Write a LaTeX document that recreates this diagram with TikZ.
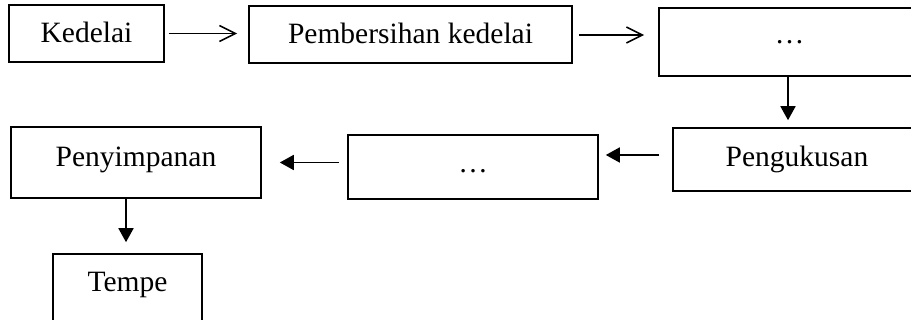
\documentclass[tikz,border=0pt]{standalone}
\usepackage{fontspec}
\setmainfont{Liberation Serif}
\usetikzlibrary{arrows.meta}
\begin{document}
\begin{tikzpicture}[x=1pt,y=-1pt,
  box/.style={draw,line width=1.6pt,inner sep=0pt,text height=20pt,
    font=\fontsize{29.5}{34}\selectfont},
  openarr/.style={line width=1.6pt,-{Straight Barb[length=16pt,width=16pt,line width=1.6pt]}},
  fillarr/.style={line width=1.7pt,-{Triangle[length=14pt,width=15pt]}}]
\path[use as bounding box] (0,0) rectangle (911,320);
\clip (0,0) rectangle (911,320);
\node[box,minimum width=155pt,minimum height=57pt,text depth=1pt] (k) at (86.5,33.5) {Kedelai};
\node[box,minimum width=323pt,minimum height=57pt,text depth=1pt] (p) at (410.5,34.5) {Pembersihan kedelai};
\node[box,minimum width=261pt,minimum height=68pt,text depth=16pt] (b3) at (789.5,42) {…};
\node[box,minimum width=248pt,minimum height=63pt,text depth=5pt] (pg) at (797,159.5) {Pengukusan};
\node[box,minimum width=250pt,minimum height=64pt,text depth=8pt] (d2) at (473,167) {…};
\node[box,minimum width=250pt,minimum height=71pt,text depth=12pt] (py) at (136,162.5) {Penyimpanan};
\node[box,minimum width=149pt,minimum height=80pt,text depth=24pt] (tp) at (127.5,294) {Tempe};
\draw[openarr,shorten <=4pt,shorten >=11pt] (k.east) -- (k.east -| p.west);
\draw[openarr,shorten <=6pt,shorten >=14pt] ([yshift=-0.5pt]p.east) -- ([yshift=-0.5pt]p.east -| b3.west);
\draw[fillarr,shorten >=7pt] ([xshift=-1.5pt]b3.south) -- ([xshift=-1.5pt]b3.south |- pg.north);
\draw[fillarr,shorten <=13pt,shorten >=7pt] ([yshift=4.5pt]pg.west) -- ([yshift=4.5pt]pg.west -| d2.east);
\draw[fillarr,shorten <=8pt,shorten >=18pt] (py.east -| d2.west) -- (py.east);
\draw[fillarr,shorten >=11pt] ([xshift=-1.5pt]tp.north |- py.south) -- ([xshift=-1.5pt]tp.north);
\end{tikzpicture}
\end{document}
